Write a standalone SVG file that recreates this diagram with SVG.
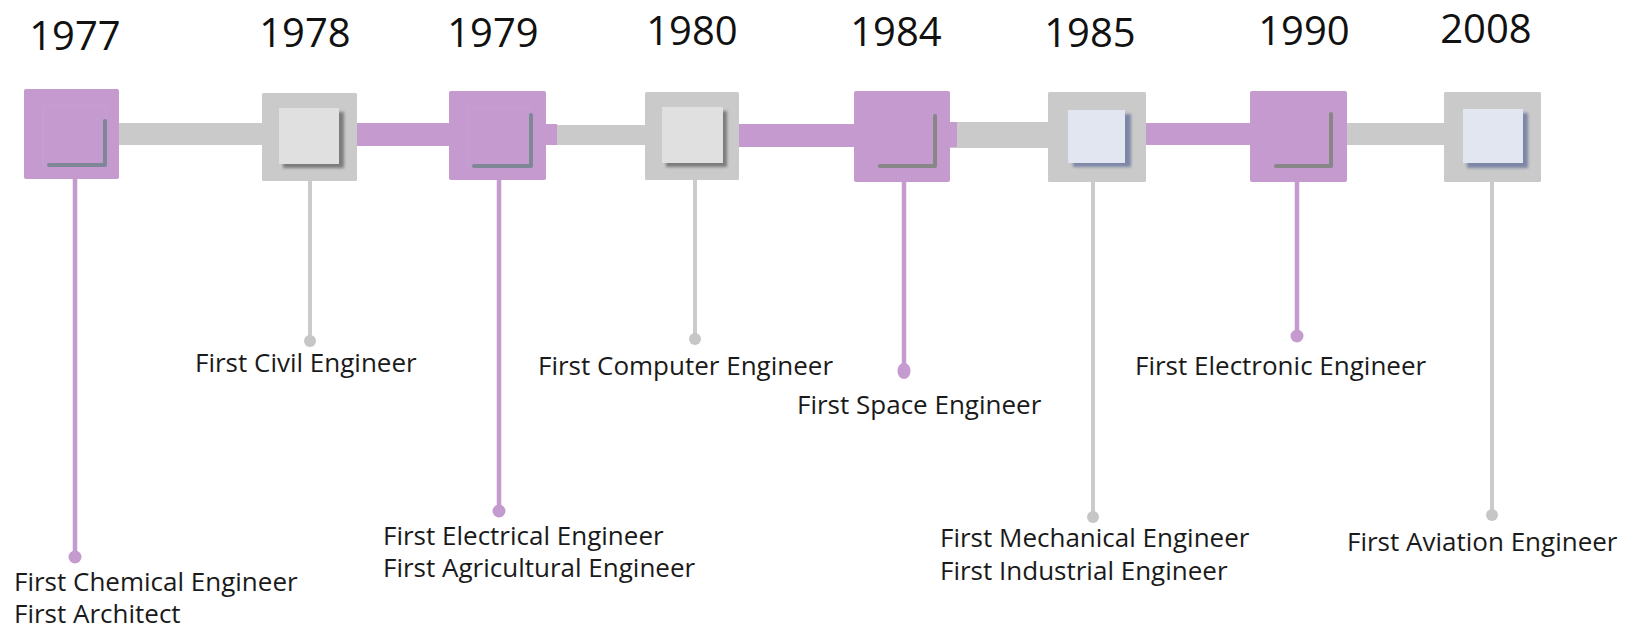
<svg xmlns="http://www.w3.org/2000/svg" width="1637" height="629" viewBox="0 0 1637 629">
  <defs>
    <filter id="soft" x="-20%" y="-20%" width="140%" height="140%">
      <feGaussianBlur stdDeviation="1.6"/>
    </filter>
    <style>
      .year { font-family: "Open Sans", "DejaVu Sans", sans-serif; font-size: 40px; fill: #111; text-anchor: middle; }
      .label { font-family: "Open Sans", "DejaVu Sans", sans-serif; font-size: 26px; fill: #1a1a1a; }
      .box-p { fill: #C49ACF; }
      .box-g { fill: #CACACA; }
      .bar-p { fill: #C49ACF; }
      .bar-g { fill: #CACACA; }
      .stem-p { stroke: #C49ACF; stroke-width: 4.5; }
      .stem-g { stroke: #CBCBCB; stroke-width: 4; }
      .dot-p { fill: #C49ACF; }
      .dot-g { fill: #C6C6C6; }
      .inner-p { fill: #C49ACF; stroke: #C8A0D2; stroke-width: 1; }
      .corner { fill: none; stroke-width: 4; stroke-linecap: round; stroke-linejoin: round; }
      .inner-gray { fill: #E0E0E0; }
      .inner-blue { fill: #E2E6F1; }
      .shade-gray { fill: #7C7C7C; }
      .shade-blue { fill: #7E86A6; }
    </style>
  </defs>

  <rect width="1637" height="629" fill="#ffffff"/>

  <!-- horizontal timeline bars -->
  <g id="connectors">
    <rect class="bar-g" x="118" y="123" width="146" height="22"/>
    <rect class="bar-p" x="356" y="123" width="95" height="23"/>
    <rect class="bar-g" x="556" y="125" width="91" height="20"/>
    <rect class="bar-p" x="545" y="124" width="12" height="21"/>
    <rect class="bar-p" x="738" y="124" width="118" height="23"/>
    <rect class="bar-g" x="950" y="122" width="100" height="26"/>
    <rect class="bar-p" x="949" y="122" width="8" height="25"/>
    <rect class="bar-p" x="1145" y="123" width="107" height="22"/>
    <rect class="bar-g" x="1345" y="123" width="101" height="22"/>
  </g>

  <!-- 1977 -->
  <g id="node-1977">
    <text class="year" x="75" y="50">1977</text>
    <line class="stem-p" x1="75" y1="178" x2="75" y2="556"/>
    <circle class="dot-p" cx="75" cy="557" r="6.5"/>
    <rect class="box-p" x="24" y="89" width="95" height="90" rx="2"/>
    <rect class="inner-p" x="43" y="106" width="63" height="60"/>
    <path class="corner" d="M105 121 V165 H49" stroke="#7D8796"/>
    <text class="label" x="14" y="591">First Chemical Engineer</text>
    <text class="label" x="14" y="623">First Architect</text>
  </g>

  <!-- 1978 -->
  <g id="node-1978">
    <text class="year" x="305" y="47">1978</text>
    <line class="stem-g" x1="310" y1="180" x2="310" y2="340"/>
    <circle class="dot-g" cx="310" cy="341" r="6"/>
    <rect class="box-g" x="262" y="93" width="95" height="88" rx="1.5"/>
    <rect class="shade-gray" x="283" y="112" width="61" height="56" filter="url(#soft)"/>
    <rect class="inner-gray" x="279" y="108" width="60" height="56"/>
    <text class="label" x="195" y="372">First Civil Engineer</text>
  </g>

  <!-- 1979 -->
  <g id="node-1979">
    <text class="year" x="493" y="47">1979</text>
    <line class="stem-p" x1="499" y1="179" x2="499" y2="509"/>
    <circle class="dot-p" cx="499" cy="511" r="6.5"/>
    <rect class="box-p" x="449" y="91" width="97" height="89" rx="2"/>
    <rect class="inner-p" x="468" y="108" width="62" height="59"/>
    <path class="corner" d="M531 115 V166 H474" stroke="#7D8796"/>
    <text class="label" x="383" y="545">First Electrical Engineer</text>
    <text class="label" x="383" y="577">First Agricultural Engineer</text>
  </g>

  <!-- 1980 -->
  <g id="node-1980">
    <text class="year" x="692" y="45">1980</text>
    <line class="stem-g" x1="695" y1="179" x2="695" y2="338"/>
    <circle class="dot-g" cx="695" cy="339" r="6"/>
    <rect class="box-g" x="645" y="92" width="94" height="88" rx="1.5"/>
    <rect class="shade-gray" x="666" y="111" width="61" height="56" filter="url(#soft)"/>
    <rect class="inner-gray" x="662" y="107" width="61" height="56"/>
    <text class="label" x="538" y="375">First Computer Engineer</text>
  </g>

  <!-- 1984 -->
  <g id="node-1984">
    <text class="year" x="896" y="46">1984</text>
    <line class="stem-p" x1="904" y1="181" x2="904" y2="368"/>
    <ellipse class="dot-p" cx="904" cy="371" rx="6.5" ry="8"/>
    <rect class="box-p" x="854" y="91" width="96" height="91" rx="2"/>
    <path class="corner" d="M935 116 V166 H880" stroke="#878787"/>
    <text class="label" x="797" y="414">First Space Engineer</text>
  </g>

  <!-- 1985 -->
  <g id="node-1985">
    <text class="year" x="1090" y="47">1985</text>
    <line class="stem-g" x1="1093" y1="181" x2="1093" y2="516"/>
    <circle class="dot-g" cx="1093" cy="517" r="6"/>
    <rect class="box-g" x="1048" y="92" width="98" height="90" rx="1.5"/>
    <rect class="shade-blue" x="1073" y="114" width="58" height="53" filter="url(#soft)"/>
    <rect class="inner-blue" x="1068" y="110" width="57" height="53"/>
    <text class="label" x="940" y="547">First Mechanical Engineer</text>
    <text class="label" x="940" y="580">First Industrial Engineer</text>
  </g>

  <!-- 1990 -->
  <g id="node-1990">
    <text class="year" x="1304" y="45">1990</text>
    <line class="stem-p" x1="1297" y1="181" x2="1297" y2="334"/>
    <circle class="dot-p" cx="1297" cy="336" r="6.5"/>
    <rect class="box-p" x="1250" y="91" width="97" height="91" rx="2"/>
    <path class="corner" d="M1331 114 V166 H1276" stroke="#878787"/>
    <text class="label" x="1135" y="375">First Electronic Engineer</text>
  </g>

  <!-- 2008 -->
  <g id="node-2008">
    <text class="year" x="1486" y="43">2008</text>
    <line class="stem-g" x1="1492" y1="181" x2="1492" y2="514"/>
    <circle class="dot-g" cx="1492" cy="515" r="6"/>
    <rect class="box-g" x="1444" y="92" width="97" height="90" rx="1.5"/>
    <rect class="shade-blue" x="1467" y="113" width="61" height="55" filter="url(#soft)"/>
    <rect class="inner-blue" x="1463" y="109" width="60" height="54"/>
    <text class="label" x="1347" y="551">First Aviation Engineer</text>
  </g>
</svg>
